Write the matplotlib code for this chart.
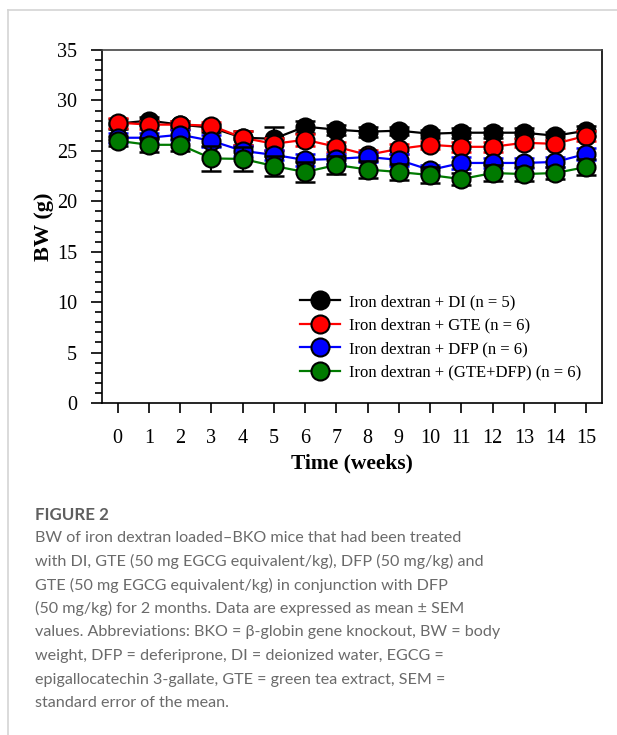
import matplotlib
matplotlib.use("Agg")
import matplotlib.pyplot as plt
from matplotlib.lines import Line2D
import numpy as np

weeks = list(range(16))

di_mean = [27.7, 28.0, 27.6, 27.3, 26.3, 26.2, 27.4, 27.1, 26.9, 27.0, 26.7, 26.8, 26.8, 26.8, 26.5, 27.0]
di_sem = [0.5, 0.4, 0.4, 0.4, 0.7, 1.2, 0.6, 0.5, 0.5, 0.4, 0.4, 0.5, 0.5, 0.5, 0.4, 0.5]

gte_mean = [27.8, 27.6, 27.6, 27.5, 26.3, 25.7, 26.1, 25.4, 24.6, 25.2, 25.6, 25.4, 25.4, 25.8, 25.7, 26.5]
gte_sem = [0.5, 0.4, 0.4, 0.4, 0.7, 0.6, 0.6, 0.5, 0.5, 0.5, 0.4, 0.5, 0.5, 0.4, 0.4, 0.5]

dfp_mean = [26.3, 26.3, 26.6, 26.0, 25.0, 24.6, 24.1, 24.2, 24.4, 24.1, 23.1, 23.8, 23.8, 23.8, 23.9, 24.7]
dfp_sem = [0.5, 0.5, 0.5, 0.6, 0.5, 0.5, 0.6, 0.5, 0.5, 0.6, 0.5, 0.6, 0.5, 0.5, 0.5, 0.6]

combo_mean = [26.0, 25.6, 25.6, 24.25, 24.2, 23.5, 22.9, 23.6, 23.15, 22.9, 22.6, 22.2, 22.8, 22.7, 22.8, 23.4]
combo_sem = [0.5, 0.7, 0.6, 1.2, 1.2, 1.0, 1.0, 0.9, 0.8, 0.8, 0.8, 0.6, 0.8, 0.7, 0.6, 0.8]

labels = ["Iron dextran + DI (n = 5)", "Iron dextran + GTE (n = 6)",
          "Iron dextran + DFP (n = 6)", "Iron dextran + (GTE+DFP) (n = 6)"]
colors = ["#000000", "#ff0000", "#0000ff", "#007a00"]
err_colors = ["#000000", "#ff0000", "#0000ff", "#000000"]

caption_title = "FIGURE 2"
caption_lines = [
    "BW of iron dextran loaded\u2013BKO mice that had been treated",
    "with DI, GTE (50 mg EGCG equivalent/kg), DFP (50 mg/kg) and",
    "GTE (50 mg EGCG equivalent/kg) in conjunction with DFP",
    "(50 mg/kg) for 2 months. Data are expressed as mean \u00b1 SEM",
    "values. Abbreviations: BKO = \u03b2-globin gene knockout, BW = body",
    "weight, DFP = deferiprone, DI = deionized water, EGCG =",
    "epigallocatechin 3-gallate, GTE = green tea extract, SEM =",
    "standard error of the mean.",
]

W, H = 617, 735
fig = plt.figure(figsize=(W / 100, H / 100), dpi=100)
ax = fig.add_axes([102 / W, 1 - 403 / H, 500 / W, 353 / H])

serif = ["Liberation Serif", "DejaVu Serif"]

series = [(di_mean, di_sem), (gte_mean, gte_sem), (dfp_mean, dfp_sem), (combo_mean, combo_sem)]
handles = []
for i, ((m, s), c, ec, lab) in enumerate(zip(series, colors, err_colors, labels)):
    ax.errorbar(weeks, m, yerr=s, fmt="none", ecolor=ec, elinewidth=1.5,
                capsize=7, capthick=1.8, zorder=2 + i * 3)
    ln, = ax.plot(weeks, m, color=c, lw=1.6, marker="o", markersize=13,
                  markerfacecolor=c, markeredgecolor="black", markeredgewidth=1.5,
                  label=lab, zorder=3 + i * 3)
    handles.append(ln)

ax.set_xlim(-0.5, 15.5)
ax.set_ylim(0, 35)
ax.set_xticks(weeks)
ax.set_xticklabels([str(w) for w in weeks])
ax.set_yticks(np.arange(0, 36, 5))
ax.set_yticks(np.arange(0, 36, 1), minor=True)
ax.tick_params(axis="y", which="major", direction="out", length=8, width=1.2, pad=10,
               labelsize=14.5)
ax.tick_params(axis="y", which="minor", direction="out", length=5, width=1.2)
ax.tick_params(axis="x", which="major", direction="out", length=7, width=1.2, pad=12,
               labelsize=14.5)
for lab in ax.get_xticklabels() + ax.get_yticklabels():
    lab.set_fontfamily(serif)
for sp in ax.spines.values():
    sp.set_linewidth(1.2)
ax.spines["top"].set_color("#444444")

ax.set_xlabel("Time (weeks)", fontsize=15.5, fontweight="bold", family=serif, labelpad=4)
ax.set_ylabel("BW (g)", fontsize=16, fontweight="bold", family=serif, labelpad=2)

leg = ax.legend(handles=handles, loc="center left", bbox_to_anchor=(0.396, 0.186),
                frameon=False, prop={"family": serif, "size": 12},
                handlelength=2.4, handletextpad=0.55, labelspacing=0.45,
                borderaxespad=0, borderpad=0)

# card border
fig.add_artist(Line2D([8 / W, 1], [1 - 10 / H, 1 - 10 / H], color="#d4d4d4", lw=1.2))
fig.add_artist(Line2D([8 / W, 8 / W], [0, 1 - 10 / H], color="#d4d4d4", lw=1.2))

cap_font = ["Lato", "DejaVu Sans"]
fig.text(35 / W, 1 - 515 / H, caption_title, fontsize=12.2, fontweight="bold",
         color="#5f5f5f", family=cap_font, va="center", ha="left")
for k, line in enumerate(caption_lines):
    y = 538 + k * 23.6
    fig.text(35 / W, 1 - y / H, line, fontsize=11.6, color="#6a6a6a",
             family=cap_font, va="center", ha="left")

fig.savefig("out.png", dpi=100)
